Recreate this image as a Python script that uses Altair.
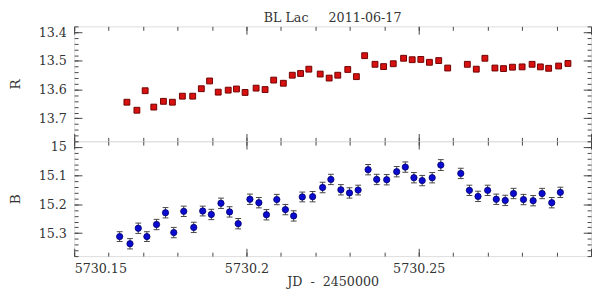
import altair as alt
import pandas as pd

# ---------------- data ----------------
jd_r = [5730.1653, 5730.1682, 5730.1706, 5730.1731, 5730.1759, 5730.1785, 5730.1814, 5730.1844,
        5730.1869, 5730.1893, 5730.1918, 5730.1947, 5730.1971, 5730.1996, 5730.2028, 5730.2054,
        5730.2079, 5730.2107, 5730.2133, 5730.2157, 5730.2181, 5730.2214, 5730.2240, 5730.2265,
        5730.2294, 5730.2319, 5730.2343, 5730.2373, 5730.2398, 5730.2426, 5730.2456, 5730.2481,
        5730.2506, 5730.2531, 5730.2558, 5730.2584, 5730.2641, 5730.2667, 5730.2692, 5730.2721,
        5730.2746, 5730.2772, 5730.2800, 5730.2829, 5730.2853, 5730.2877, 5730.2906, 5730.2933]
mag_r = [13.644, 13.672, 13.604, 13.661, 13.641, 13.644, 13.623, 13.623,
         13.597, 13.570, 13.609, 13.602, 13.598, 13.610, 13.595, 13.600,
         13.567, 13.578, 13.550, 13.544, 13.529, 13.546, 13.560, 13.550,
         13.530, 13.555, 13.482, 13.512, 13.520, 13.510, 13.491, 13.496,
         13.495, 13.505, 13.499, 13.525, 13.512, 13.529, 13.491, 13.525,
         13.527, 13.522, 13.521, 13.512, 13.521, 13.526, 13.518, 13.509]

jd_b = [5730.1632, 5730.1662, 5730.1686, 5730.1711, 5730.1739, 5730.1765, 5730.1789, 5730.1818,
        5730.1847, 5730.1873, 5730.1898, 5730.1926, 5730.1951, 5730.1976, 5730.2010, 5730.2036,
        5730.2058, 5730.2088, 5730.2113, 5730.2137, 5730.2162, 5730.2192, 5730.2221, 5730.2245,
        5730.2274, 5730.2299, 5730.2324, 5730.2353, 5730.2378, 5730.2407, 5730.2436, 5730.2461,
        5730.2486, 5730.2510, 5730.2539, 5730.2564, 5730.2622, 5730.2647, 5730.2672, 5730.2700,
        5730.2725, 5730.2751, 5730.2775, 5730.2804, 5730.2832, 5730.2858, 5730.2886, 5730.2911]
mag_b = [15.312, 15.337, 15.283, 15.312, 15.270, 15.229, 15.298, 15.224,
         15.280, 15.223, 15.235, 15.196, 15.226, 15.267, 15.182, 15.194,
         15.236, 15.183, 15.218, 15.240, 15.174, 15.173, 15.141, 15.113,
         15.149, 15.160, 15.150, 15.079, 15.113, 15.114, 15.086, 15.070,
         15.107, 15.117, 15.107, 15.063, 15.092, 15.151, 15.172, 15.151,
         15.182, 15.186, 15.162, 15.183, 15.187, 15.162, 15.194, 15.158]
err_b = [0.017, 0.018, 0.018, 0.017, 0.018, 0.018, 0.018, 0.018,
         0.018, 0.017, 0.018, 0.018, 0.018, 0.018, 0.018, 0.018,
         0.018, 0.018, 0.018, 0.018, 0.017, 0.018, 0.018, 0.018,
         0.018, 0.018, 0.017, 0.018, 0.018, 0.018, 0.018, 0.018,
         0.018, 0.018, 0.018, 0.019, 0.018, 0.018, 0.018, 0.018,
         0.018, 0.018, 0.018, 0.018, 0.018, 0.018, 0.018, 0.018]

title_text = "BL Lac\u00a0\u00a0\u00a0\u00a0\u00a02011-06-17"
x_title = "JD\u00a0\u00a0-\u00a0\u00a02450000"

x_dom = [5730.15, 5730.30]
r_dom = [13.38, 13.78]
b_dom = [14.98, 15.38]
x_labels = [5730.15, 5730.2, 5730.25]
x_major = [5730.15, 5730.2, 5730.25, 5730.3]
x_minor = [round(5730.15 + 0.01 * i, 2) for i in range(16)]
r_major = [13.4, 13.5, 13.6, 13.7]
r_minor = [round(13.38 + 0.02 * i, 2) for i in range(21)]
b_major = [15.0, 15.1, 15.2, 15.3]
b_minor = [round(14.98 + 0.02 * i, 2) for i in range(21)]

W, H = 531, 118
FONT = "DejaVu Serif"
TXT = "#333"
TICK = "#444"

df_r = pd.DataFrame({"jd": jd_r, "mag": mag_r})
df_b = pd.DataFrame({"jd": jd_b, "mag": mag_b, "err": err_b})


def tick_layers(df, y_dom, y_major, y_minor):
    layers = []
    for xv, yv, size in [(x_major, y_major, 8), (x_minor, y_minor, 4)]:
        for xo, yo in [("top", "right"), ("bottom", "left")]:
            layers.append(
                alt.Chart(df).mark_point(opacity=0).encode(
                    x=alt.X("jd:Q", scale=alt.Scale(domain=x_dom, nice=False, zero=False),
                            axis=alt.Axis(orient=xo, offset=-H, values=xv, tickSize=size,
                                          labels=False, domain=False, grid=False, title=None,
                                          tickColor=TICK, tickWidth=1)),
                    y=alt.Y("mag:Q", scale=alt.Scale(domain=y_dom, reverse=True, nice=False, zero=False),
                            axis=alt.Axis(orient=yo, offset=-W, values=yv, tickSize=size,
                                          labels=False, domain=False, grid=False, title=None,
                                          tickColor=TICK, tickWidth=1)),
                )
            )
    return layers


# ---------------- top panel (R) ----------------
r_points = alt.Chart(df_r).mark_square(size=36, filled=True, color="#d81010", stroke="#6e0000",
                                       strokeWidth=1, opacity=1).encode(
    x=alt.X("jd:Q", scale=alt.Scale(domain=x_dom, nice=False, zero=False), axis=None),
    y=alt.Y("mag:Q", scale=alt.Scale(domain=r_dom, reverse=True, nice=False, zero=False),
            axis=alt.Axis(orient="left", values=r_major, format="~g", ticks=False, tickSize=0,
                          domain=False, grid=False, labelPadding=8, labelFont=FONT, labelFontSize=13,
                          labelColor=TXT, title="R", titleFont=FONT, titleFontSize=14,
                          titleFontWeight="normal", titleColor=TXT, titlePadding=16)),
)

top = alt.layer(r_points, *tick_layers(df_r, r_dom, r_major, r_minor)).resolve_axis(
    x="independent", y="independent"
).properties(
    width=W, height=H,
    title=alt.TitleParams(title_text, frame="group", anchor="middle", offset=1, font=FONT,
                          fontSize=13, fontWeight="normal", color=TXT),
)

# ---------------- bottom panel (B) ----------------
b_base = alt.Chart(df_b).transform_calculate(lo="datum.mag - datum.err", hi="datum.mag + datum.err")
xs = alt.Scale(domain=x_dom, nice=False, zero=False)
bs = alt.Scale(domain=b_dom, reverse=True, nice=False, zero=False)

b_err = b_base.mark_rule(color=TICK, strokeWidth=1).encode(
    x=alt.X("jd:Q", scale=xs, axis=None),
    y=alt.Y("lo:Q", scale=bs, axis=None),
    y2="hi:Q",
)
b_cap_lo = b_base.mark_tick(orient="horizontal", size=6, thickness=1, color=TICK, opacity=1).encode(
    x=alt.X("jd:Q", scale=xs, axis=None),
    y=alt.Y("lo:Q", scale=bs, axis=None),
)
b_cap_hi = b_base.mark_tick(orient="horizontal", size=6, thickness=1, color=TICK, opacity=1).encode(
    x=alt.X("jd:Q", scale=xs, axis=None),
    y=alt.Y("hi:Q", scale=bs, axis=None),
)
b_points = alt.Chart(df_b).mark_circle(size=42, color="#0a0ad0", stroke="#00006a", strokeWidth=0.8,
                                       opacity=1).encode(
    x=alt.X("jd:Q", scale=xs,
            axis=alt.Axis(orient="bottom", values=x_labels, format=".6~r", ticks=False, tickSize=0,
                          domain=False, grid=False, labelPadding=7, labelFont=FONT, labelFontSize=13,
                          labelColor=TXT, title=x_title, titleFont=FONT, titleFontSize=13,
                          titleFontWeight="normal", titleColor=TXT, titlePadding=0)),
    y=alt.Y("mag:Q", scale=bs,
            axis=alt.Axis(orient="left", values=b_major, format="~g", ticks=False, tickSize=0,
                          domain=False, grid=False, labelPadding=8, labelFont=FONT, labelFontSize=13,
                          labelColor=TXT, title="B", titleFont=FONT, titleFontSize=14,
                          titleFontWeight="normal", titleColor=TXT, titlePadding=16)),
)

bottom = alt.layer(b_err, b_cap_lo, b_cap_hi, b_points, *tick_layers(df_b, b_dom, b_major, b_minor)).resolve_axis(
    x="independent", y="independent"
).properties(width=W, height=H)

chart = alt.vconcat(top, bottom, spacing=0, bounds="flush").properties(
    padding={"left": 0, "top": 0, "right": 0, "bottom": 0}
).configure_view(stroke="#000", strokeWidth=1).configure(background="white")

chart.save("out.html", embed_options={"renderer": "svg", "actions": False})
